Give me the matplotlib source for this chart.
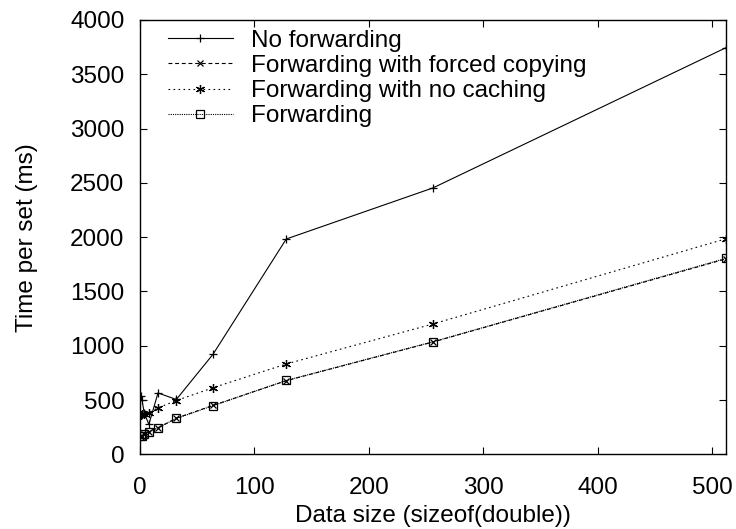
import matplotlib
matplotlib.use("Agg")
import matplotlib.pyplot as plt

plt.rcParams['font.family'] = ['Liberation Sans', 'DejaVu Sans']

sizes = [1, 2, 4, 8, 16, 32, 64, 128, 256, 512]
no_forwarding = [540, 500, 380, 275, 565, 505, 921, 1983, 2453, 3745]
forced_copying = [160, 170, 185, 210, 243, 333, 450, 678, 1034, 1800]
no_caching = [360, 370, 375, 385, 428, 495, 613, 832, 1200, 1985]
forwarding = [165, 172, 190, 210, 245, 330, 448, 680, 1036, 1805]

labels = ["No forwarding", "Forwarding with forced copying",
          "Forwarding with no caching", "Forwarding"]

fs = 17.5
fig = plt.figure(figsize=(7.36, 5.29), dpi=100)
ax = fig.add_axes([0.1898, 0.1412, 0.9864 - 0.1898, 0.9622 - 0.1412])

lw = 0.8
ms = 5.5
ax.plot(sizes, no_forwarding, color='black', lw=lw, ls='-', marker='+',
        ms=ms, mew=0.9, label=labels[0])
ax.plot(sizes, forced_copying, color='black', lw=lw, ls=(0, (3.5, 2.5)),
        marker='x', ms=ms - 1, mew=0.9, label=labels[1])
ax.plot(sizes, no_caching, color='black', lw=lw, ls=(0, (1.5, 3)),
        marker=(6, 2, 0), ms=ms + 1, mew=0.9, label=labels[2])
ax.plot(sizes, forwarding, color='black', lw=lw, ls=(0, (1, 1)),
        marker='s', ms=ms, mfc='none', mew=0.9, label=labels[3])

ax.set_xlim(0, 512)
ax.set_ylim(0, 4000)
ax.set_xticks(range(0, 501, 100))
ax.set_yticks(range(0, 4001, 500))

for s in ax.spines.values():
    s.set_linewidth(1.0)

ax.tick_params(axis='both', direction='in', top=True, right=True,
               length=5, width=0.8, labelsize=fs)
ax.tick_params(axis='y', pad=11)
ax.tick_params(axis='x', pad=16)

ax.set_xlabel("Data size (sizeof(double))", fontsize=fs, labelpad=5)
ax.set_ylabel("Time per set (ms)", fontsize=fs, labelpad=23)

leg = ax.legend(loc='upper left', frameon=False, fontsize=fs,
                handlelength=2.65, handletextpad=0.74, labelspacing=0.13,
                borderaxespad=0.0, bbox_to_anchor=(0.032, 1.0))

fig.savefig("out.png", dpi=100)
